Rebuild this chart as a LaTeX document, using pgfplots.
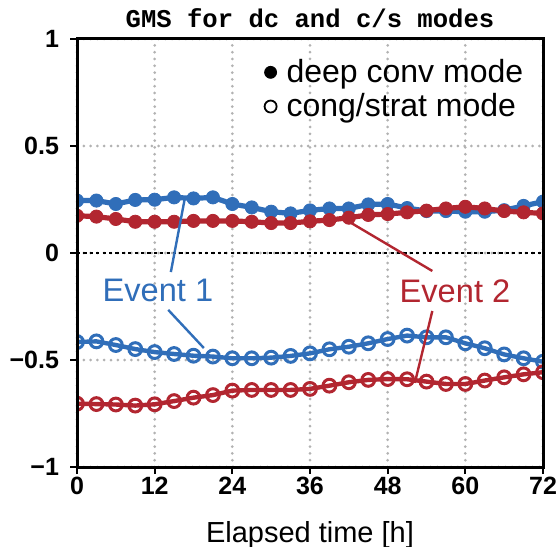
\documentclass[border=0pt]{standalone}
\usepackage{fontspec}
\setmainfont{Liberation Sans}
\newfontfamily\titlefont{Liberation Mono}
\usepackage{pgfplots}
\pgfplotsset{compat=1.18}
\definecolor{evblue}{RGB}{48,110,185}
\definecolor{evred}{RGB}{178,38,48}
\pgfplotstableread{
x dcA dcB csA csB
0  0.245 0.174 -0.416 -0.704
3  0.245 0.170 -0.413 -0.706
6  0.229 0.159 -0.430 -0.708
9  0.248 0.146 -0.449 -0.713
12 0.249 0.146 -0.463 -0.707
15 0.260 0.146 -0.472 -0.692
18 0.255 0.150 -0.480 -0.676
21 0.260 0.150 -0.484 -0.664
24 0.229 0.150 -0.492 -0.643
27 0.213 0.146 -0.492 -0.640
30 0.193 0.140 -0.489 -0.640
33 0.185 0.140 -0.481 -0.640
36 0.199 0.148 -0.469 -0.635
39 0.208 0.154 -0.450 -0.620
42 0.208 0.165 -0.438 -0.604
45 0.227 0.178 -0.422 -0.593
48 0.229 0.182 -0.402 -0.589
51 0.210 0.190 -0.386 -0.590
54 0.196 0.198 -0.394 -0.601
57 0.196 0.208 -0.394 -0.612
60 0.193 0.216 -0.422 -0.612
63 0.193 0.208 -0.445 -0.596
66 0.200 0.196 -0.474 -0.581
69 0.220 0.190 -0.492 -0.567
72 0.240 0.185 -0.508 -0.557
}\datatab
\begin{document}
\begin{tikzpicture}
\begin{axis}[
  scale only axis, width=233pt, height=214pt,
  xmin=0, xmax=72, ymin=-1, ymax=1,
  xtick={0,12,24,36,48,60,72},
  ytick={-1,-0.5,0,0.5,1},
  yticklabels={−1,−0.5,0,0.5,1},
  /pgf/number format/assume math mode=true,
  ticklabel style={font=\fontsize{12.5}{12.5}\selectfont\bfseries},
  xticklabel style={yshift=2pt},
  yticklabel style={xshift=-2pt},
  xtick pos=left, ytick pos=left, tick align=outside,
  major tick length=3.5pt,
  tick style={line width=1.1pt, black},
  axis line style={line width=1.5pt},
  xmajorgrids, ymajorgrids,
  grid style={black!30, line width=1.5pt, dash pattern=on 0pt off 3.4pt, line cap=round},
  clip marker paths=true,
  title={\titlefont\bfseries GMS for dc and c/s modes},
  title style={font=\fontsize{12.8}{12.8}\selectfont, at={(0.5,1)}, anchor=base, yshift=-0.5pt, inner sep=0pt},
  xlabel={Elapsed time [h]},
  xlabel style={font=\fontsize{14.5}{14.5}\selectfont, at={(axis description cs:0.5,0)}, anchor=base, yshift=-37.5pt, inner sep=0pt},
  legend style={at={(0.967,0.963)}, anchor=north east, draw=none, fill=none,
    font=\fontsize{16}{16}\selectfont, inner sep=0pt, row sep=0pt},
  legend cell align=left,
]
\coordinate (BL) at (rel axis cs:0,0);
\coordinate (TR) at (rel axis cs:1,1);
\draw[black, line width=1.2pt, dash pattern=on 1.6pt off 1.6pt] (axis cs:0,0) -- (axis cs:72,0);
\addplot[evblue, line width=2.6pt, mark=*, mark size=3.3pt, mark options={line width=0.4pt}, forget plot] table[x=x,y=dcA] {\datatab};
\addplot[evred, line width=2.6pt, mark=*, mark size=3.3pt, mark options={line width=0.4pt}, forget plot] table[x=x,y=dcB] {\datatab};
\addplot[evblue, line width=2.2pt, mark=o, mark size=3.2pt, mark options={fill=white, line width=1.5pt}, forget plot] table[x=x,y=csA] {\datatab};
\addplot[evred, line width=2.2pt, mark=o, mark size=3.2pt, mark options={fill=white, line width=1.5pt}, forget plot] table[x=x,y=csB] {\datatab};
\draw[evblue, line width=1.2pt] (axis cs:14.5,-0.089) -- (axis cs:16.7,0.262);
\draw[evblue, line width=1.2pt] (axis cs:14.1,-0.266) -- (axis cs:19.6,-0.444);
\draw[evred, line width=1.2pt] (axis cs:41.6,0.154) -- (axis cs:54.9,-0.084);
\draw[evred, line width=1.2pt] (axis cs:54.9,-0.271) -- (axis cs:52.2,-0.607);
\node[evblue, font=\fontsize{16.3}{16.3}\selectfont] at (axis cs:12.5,-0.173) {Event 1};
\node[evred, font=\fontsize{16.3}{16.3}\selectfont] at (axis cs:58.4,-0.178) {Event 2};
\draw[line width=1.5pt] (rel axis cs:0,0) rectangle (rel axis cs:1,1);
\addlegendimage{only marks, mark=*, mark size=3pt, black}
\addlegendentry{\hspace{3pt}deep conv mode}
\addlegendimage{only marks, mark=o, mark size=3pt, black, mark options={line width=0.9pt}}
\addlegendentry{\hspace{3pt}cong/strat mode}
\end{axis}
\pgfresetboundingbox
\path[use as bounding box] ([xshift=-38.5pt,yshift=-39.5pt]BL) rectangle ([xshift=6.5pt,yshift=19.5pt]TR);
\end{tikzpicture}
\end{document}
